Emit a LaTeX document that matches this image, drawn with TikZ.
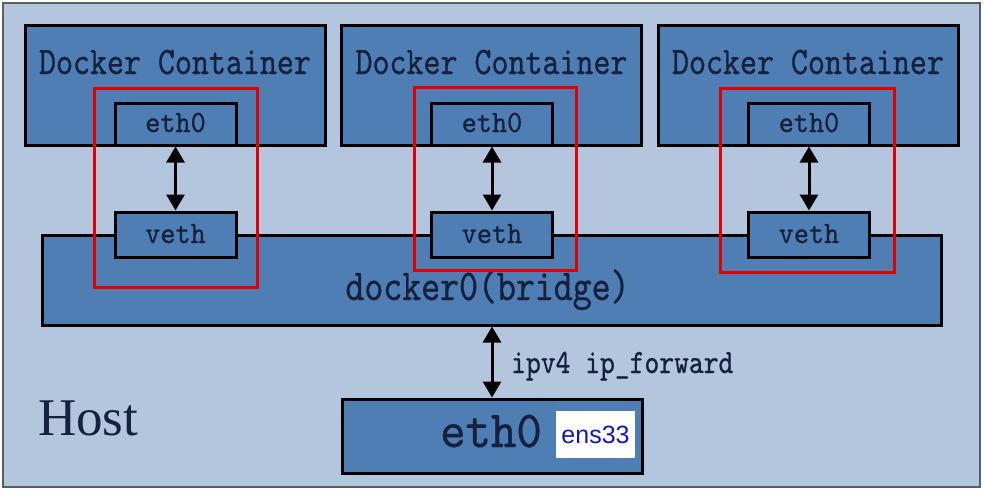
\documentclass[tikz,border=0pt]{standalone}
\usepackage{fontspec}
\newfontfamily\enssans{Liberation Sans}
\newfontfamily\hostserif{Liberation Serif}
\newfontfamily\lmm{lmmono10-regular.otf}[FakeBold=0.8]
\newcommand\monofnt[2]{\lmm\fontsize{#1}{#1}\selectfont\addfontfeatures{FakeStretch=#2}}
\usetikzlibrary{arrows.meta}
\definecolor{hostbg}{HTML}{B3C6DD}
\definecolor{boxblue}{HTML}{4F7EB4}
\definecolor{txtnavy}{HTML}{15223F}
\definecolor{frame}{HTML}{5A5F66}
\definecolor{ensblue}{HTML}{1414C8}
\tikzset{
  bluebox/.style={draw=black, line width=3pt, fill=boxblue, inner sep=0pt, text=txtnavy},
  redframe/.style={draw=red!90!black, line width=3pt},
  link/.style={line width=3pt, {Triangle[width=18pt,length=16pt]}-{Triangle[width=18pt,length=16pt]}},
  lbl/.style={text=txtnavy, inner sep=0pt, anchor=base},
}
\begin{document}
\begin{tikzpicture}[x=1pt,y=-1pt]
\useasboundingbox (0,0) rectangle (984,490);
\fill[white] (0,0) rectangle (984,490);
\draw[frame, line width=2pt, fill=hostbg] (3,3) rectangle (980,487);
\node[lbl, anchor=base west, font=\hostserif\fontsize{53}{53}\selectfont] (host) at (38,435) {Host};
% bridge
\node[bluebox, minimum width=899pt, minimum height=90pt] (bridge) at (491.5,280) {};
\node[lbl, font=\monofnt{44}{0.82}] (bridgelbl) at (487.5,300) {docker0(bridge)};
% containers
\foreach \i/\cx/\ex in {1/175/175.5, 2/491.5/492, 3/808/809}{
  \node[bluebox, minimum width=300pt, minimum height=120pt] (c\i) at (\cx,85) {};
  \node[lbl, font=\monofnt{39}{0.83}] (c\i lbl) at (\cx,74) {Docker Container};
  \node[bluebox, minimum width=121pt, minimum height=42pt] (e\i) at (\ex,124) {};
  \node[lbl, font=\monofnt{31}{0.93}] (e\i lbl) at (\ex,132) {eth0};
  \node[bluebox, minimum width=121pt, minimum height=45pt] (v\i) at (\ex,234.5) {};
  \node[lbl, font=\monofnt{31}{0.93}] (v\i lbl) at (\ex,243) {veth};
  \draw[link] (e\i.south) -- (v\i.north);
}
% red frames
\draw[redframe] (94,88) rectangle (257,287);
\draw[redframe] (414,87) rectangle (576,270);
\draw[redframe] (720,88) rectangle (894,272);
% host eth0
\node[bluebox, minimum width=300pt, minimum height=74pt] (heth) at (492,436) {};
\node[lbl, font=\monofnt{52}{0.93}] (hethlbl) at (491,447) {eth0};
\node[fill=white, minimum width=79pt, minimum height=47pt, inner sep=0pt, text=ensblue, font=\enssans\fontsize{25}{25}\selectfont] (ens) at (595.5,434.5) {ens33};
\draw[link] (bridge.south -| heth.north) -- (heth.north);
\node[lbl, anchor=base west, font=\monofnt{34}{0.83}] (fwd) at (511,373) {ipv4 ip\_forward};
\end{tikzpicture}
\end{document}
